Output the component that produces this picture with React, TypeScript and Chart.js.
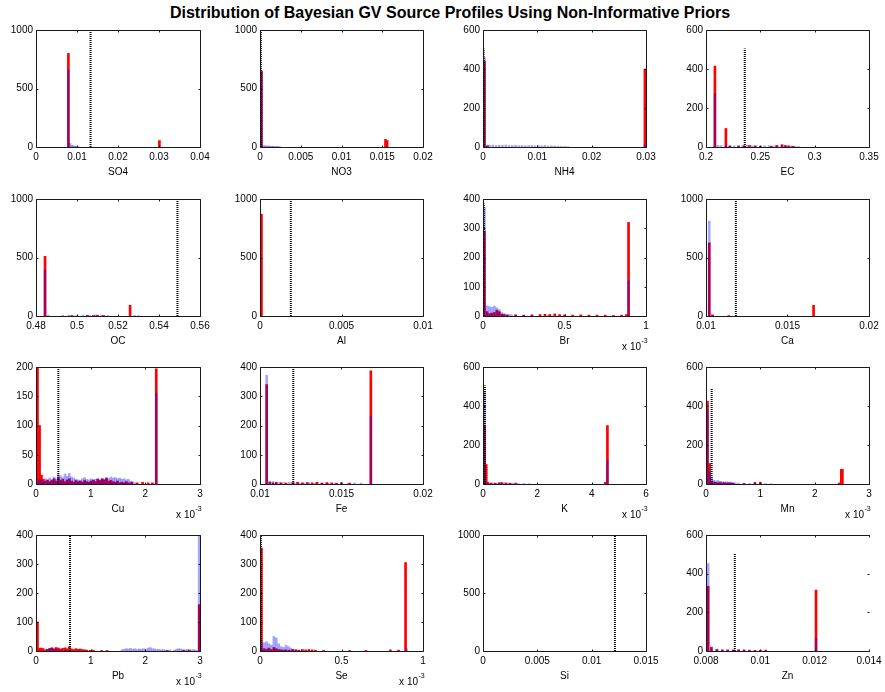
import React, { useEffect, useRef } from "react";
import { Chart, registerables } from "chart.js";

Chart.register(...registerables);

type Pair = [number, number];

const TITLE = "Distribution of Bayesian GV Source Profiles Using Non-Informative Priors";

// ---- axis ticks ----
const T_1000 = [0, 500, 1000];
const T_600 = [0, 200, 400, 600];
const T_400 = [0, 100, 200, 300, 400];
const T_200 = [0, 50, 100, 150, 200];

// ---- SO4 ----
const SO4_X = [0, 0.01, 0.02, 0.03, 0.04];
const SO4_RED: Pair[] = [[0.0079, 800], [0.0301, 55]];
const SO4_BLUE: Pair[] = [[0.0079, 660], [0.0083, 30], [0.0087, 14], [0.0091, 10], [0.0095, 8], [0.0099, 6], [0.0103, 4]];
// ---- NO3 ----
const NO3_X = [0, 0.005, 0.01, 0.015, 0.02];
const NO3_RED: Pair[] = [[0.00018, 650], [0.0154, 65], [0.0156, 55]];
const NO3_BLUE: Pair[] = [[0.00018, 640], [0.0004, 12], [0.0006, 10], [0.0008, 8], [0.001, 8], [0.0012, 7], [0.0014, 6], [0.0016, 6], [0.0018, 5], [0.002, 5], [0.0022, 4], [0.0024, 3]];
// ---- NH4 ----
const NH4_X = [0, 0.01, 0.02, 0.03];
const NH4_RED: Pair[] = [[0.00027, 440], [0.0008, 5], [0.0298, 400]];
const NH4_BLUE: Pair[] = [[0.00027, 460], [0.0008, 10], [0.0012, 9], [0.0018, 10], [0.0024, 8], [0.003, 9], [0.0036, 8], [0.0042, 10], [0.0048, 7], [0.0054, 8], [0.006, 9], [0.0066, 7], [0.0072, 8], [0.0078, 6], [0.0084, 7], [0.009, 8], [0.0096, 6], [0.0102, 7], [0.0108, 6], [0.0114, 8], [0.012, 5], [0.0126, 6], [0.0132, 5], [0.0138, 4], [0.0144, 3], [0.015, 3], [0.0156, 2], [0.0298, 10]];
// ---- EC ----
const EC_X = [0.2, 0.25, 0.3, 0.35];
const EC_RED: Pair[] = [[0.2082, 415], [0.2183, 95], [0.222, 5], [0.23, 4], [0.235, 6], [0.24, 8], [0.245, 5], [0.25, 3], [0.26, 4], [0.265, 8], [0.27, 12], [0.273, 8], [0.276, 6], [0.28, 4]];
const EC_BLUE: Pair[] = [[0.2082, 275], [0.211, 8], [0.214, 7], [0.2183, 10], [0.222, 8], [0.226, 6], [0.23, 8], [0.234, 7], [0.238, 9], [0.242, 6], [0.246, 8], [0.25, 5], [0.254, 6], [0.258, 7], [0.262, 5], [0.266, 6], [0.27, 8], [0.274, 5], [0.278, 6], [0.282, 4], [0.285, 3]];
// ---- OC ----
const OC_X = [0.48, 0.5, 0.52, 0.54, 0.56];
const OC_RED: Pair[] = [[0.4844, 510], [0.4975, 5], [0.505, 6], [0.508, 5], [0.51, 7], [0.513, 5], [0.5259, 92]];
const OC_BLUE: Pair[] = [[0.4844, 393], [0.486, 8], [0.493, 6], [0.496, 7], [0.5, 6], [0.503, 8], [0.506, 7], [0.509, 9], [0.512, 8], [0.515, 6], [0.528, 5], [0.53, 4]];
// ---- Al ----
const AL_X = [0, 0.005, 0.01];
const AL_RED: Pair[] = [[0.00009, 870]];
const AL_BLUE: Pair[] = [];
// ---- Br (x 10^-3) ----
const BR_X = [0, 0.5, 1];
const BR_RED: Pair[] = [[0.009, 290], [0.025, 15], [0.04, 8], [0.055, 10], [0.07, 12], [0.085, 20], [0.1, 15], [0.115, 6], [0.13, 5], [0.15, 3], [0.2, 4], [0.25, 3], [0.3, 4], [0.35, 5], [0.38, 6], [0.41, 5], [0.44, 7], [0.47, 5], [0.5, 4], [0.55, 3], [0.6, 4], [0.65, 3], [0.7, 3], [0.75, 3], [0.8, 2], [0.85, 3], [0.88, 5], [0.893, 320]];
const BR_BLUE: Pair[] = [[0.009, 370], [0.025, 35], [0.04, 32], [0.055, 30], [0.07, 34], [0.085, 28], [0.1, 22], [0.115, 12], [0.13, 8], [0.145, 6], [0.16, 5], [0.175, 4], [0.2, 3], [0.25, 2], [0.3, 3], [0.4, 2], [0.893, 120]];
// ---- Ca ----
const CA_X = [0.01, 0.015, 0.02];
const CA_RED: Pair[] = [[0.0102, 625], [0.0104, 10], [0.0114, 4], [0.0166, 92]];
const CA_BLUE: Pair[] = [[0.0102, 810], [0.0104, 5]];
// ---- Cu (x 10^-3) ----
const CU_X = [0, 1, 2, 3];
const CU_RED: Pair[] = [[0.027, 200], [0.065, 100], [0.1, 15], [0.13, 8], [0.17, 5], [0.21, 7], [0.25, 4], [0.29, 6], [0.33, 9], [0.37, 5], [0.41, 10], [0.45, 6], [0.49, 8], [0.53, 4], [0.57, 7], [0.61, 9], [0.65, 5], [0.69, 3], [0.73, 6], [0.77, 4], [0.81, 5], [0.85, 3], [0.89, 6], [0.93, 4], [0.97, 3], [1.01, 5], [1.05, 7], [1.09, 4], [1.13, 8], [1.17, 6], [1.21, 9], [1.25, 7], [1.29, 10], [1.33, 5], [1.37, 6], [1.41, 4], [1.45, 3], [1.49, 5], [1.53, 2], [1.57, 3], [1.61, 2], [1.65, 4], [1.69, 2], [1.75, 3], [1.85, 2], [1.95, 3], [2.05, 2], [2.13, 2], [2.2, 197]];
const CU_BLUE: Pair[] = [[0.027, 5], [0.065, 8], [0.1, 6], [0.13, 4], [0.17, 9], [0.21, 6], [0.25, 10], [0.29, 8], [0.33, 12], [0.37, 9], [0.41, 16], [0.45, 14], [0.49, 11], [0.53, 17], [0.57, 13], [0.61, 18], [0.65, 12], [0.69, 10], [0.73, 8], [0.77, 7], [0.81, 6], [0.85, 9], [0.89, 11], [0.93, 8], [0.97, 7], [1.01, 9], [1.05, 6], [1.09, 8], [1.13, 10], [1.17, 7], [1.21, 9], [1.25, 8], [1.29, 11], [1.33, 9], [1.37, 12], [1.41, 10], [1.45, 11], [1.49, 9], [1.53, 10], [1.57, 8], [1.61, 9], [1.65, 7], [1.69, 8], [1.73, 5], [1.77, 4], [1.81, 2], [2.2, 155]];
// ---- Fe ----
const FE_X = [0.01, 0.015, 0.02];
const FE_RED: Pair[] = [[0.01041, 340], [0.0106, 6], [0.0108, 4], [0.011, 5], [0.0113, 4], [0.0116, 3], [0.012, 5], [0.0123, 6], [0.0126, 4], [0.0129, 5], [0.0132, 4], [0.0135, 6], [0.0138, 3], [0.0141, 5], [0.0144, 4], [0.0147, 3], [0.015, 4], [0.0155, 3], [0.0168, 387]];
const FE_BLUE: Pair[] = [[0.01041, 372], [0.0106, 10], [0.0108, 8], [0.011, 7], [0.0112, 6], [0.0115, 5], [0.0118, 6], [0.0121, 5], [0.0124, 4], [0.0127, 3], [0.013, 4], [0.0134, 3], [0.0138, 4], [0.0142, 3], [0.0146, 3], [0.015, 4], [0.0154, 3], [0.0158, 4], [0.0162, 3], [0.0168, 232]];
// ---- K (x 10^-3) ----
const K_X = [0, 2, 4, 6];
const K_RED: Pair[] = [[0.055, 300], [0.12, 100], [0.18, 8], [0.3, 5], [0.45, 4], [0.6, 6], [0.7, 7], [0.85, 5], [1.0, 4], [1.2, 5], [4.5, 8], [4.58, 300]];
const K_BLUE: Pair[] = [[0.055, 470], [0.12, 8], [0.25, 4], [0.4, 5], [0.55, 6], [0.65, 8], [0.8, 6], [0.95, 5], [1.1, 4], [1.3, 3], [1.5, 3], [1.7, 2], [4.58, 120]];
// ---- Mn (x 10^-3) ----
const MN_X = [0, 1, 2, 3];
const MN_RED: Pair[] = [[0.027, 425], [0.065, 105], [0.1, 15], [0.14, 10], [0.18, 8], [0.22, 6], [0.26, 8], [0.3, 5], [0.34, 7], [0.38, 4], [0.42, 6], [0.46, 5], [0.5, 3], [0.7, 3], [0.9, 8], [1.0, 9], [2.45, 5], [2.49, 75], [2.51, 75]];
const MN_BLUE: Pair[] = [[0.027, 380], [0.065, 60], [0.1, 35], [0.14, 20], [0.18, 15], [0.22, 18], [0.26, 14], [0.3, 12], [0.34, 10], [0.38, 12], [0.42, 9], [0.46, 10], [0.5, 8], [0.54, 6], [0.6, 5], [0.7, 4], [0.8, 3], [0.9, 4], [1.0, 3], [1.1, 2], [1.2, 2]];
// ---- Pb (x 10^-3) ----
const PB_X = [0, 1, 2, 3];
const PB_RED: Pair[] = [[0.027, 100], [0.065, 10], [0.1, 10], [0.13, 8], [0.17, 4], [0.21, 6], [0.25, 9], [0.29, 11], [0.33, 8], [0.37, 12], [0.41, 10], [0.45, 7], [0.49, 9], [0.53, 11], [0.57, 8], [0.61, 15], [0.65, 7], [0.69, 5], [0.73, 8], [0.77, 6], [0.81, 7], [0.85, 5], [0.89, 4], [0.93, 3], [0.99, 2], [1.05, 3], [1.2, 2], [1.3, 2], [2.4, 2], [2.7, 2], [2.8, 2], [2.985, 160]];
const PB_BLUE: Pair[] = [[0.21, 5], [0.25, 8], [0.29, 10], [0.33, 6], [0.37, 5], [0.41, 4], [0.45, 3], [0.53, 3], [1.57, 4], [1.61, 6], [1.65, 8], [1.69, 7], [1.73, 9], [1.77, 6], [1.81, 8], [1.85, 5], [1.89, 7], [1.93, 6], [1.97, 8], [2.01, 6], [2.05, 10], [2.09, 12], [2.13, 8], [2.17, 7], [2.21, 5], [2.25, 6], [2.29, 4], [2.33, 5], [2.37, 3], [2.45, 4], [2.53, 3], [2.57, 6], [2.61, 8], [2.65, 7], [2.69, 5], [2.73, 4], [2.77, 6], [2.81, 5], [2.85, 4], [2.89, 5], [2.93, 3], [2.985, 400]];
// ---- Se (x 10^-3) ----
const SE_X = [0, 0.5, 1];
const SE_RED: Pair[] = [[0.009, 355], [0.025, 8], [0.04, 6], [0.055, 10], [0.07, 5], [0.085, 12], [0.1, 8], [0.115, 5], [0.13, 4], [0.145, 3], [0.16, 4], [0.18, 3], [0.2, 5], [0.22, 4], [0.24, 3], [0.26, 5], [0.28, 4], [0.3, 5], [0.32, 4], [0.34, 3], [0.39, 2], [0.55, 2], [0.65, 2], [0.8, 4], [0.85, 3], [0.893, 305]];
const SE_BLUE: Pair[] = [[0.009, 30], [0.025, 28], [0.04, 32], [0.055, 25], [0.07, 20], [0.085, 50], [0.1, 45], [0.115, 25], [0.13, 15], [0.145, 12], [0.16, 20], [0.175, 15], [0.19, 10], [0.205, 6], [0.22, 4], [0.235, 3], [0.26, 3], [0.3, 2], [0.9, 8]];
// ---- Si ----
const SI_X = [0, 0.005, 0.01, 0.015];
const SI_RED: Pair[] = [];
const SI_BLUE: Pair[] = [];
// ---- Zn ----
const ZN_X = [0.008, 0.01, 0.012, 0.014];
const ZN_RED: Pair[] = [[0.00808, 335], [0.0082, 20], [0.0084, 8], [0.0086, 5], [0.0088, 4], [0.009, 5], [0.0092, 6], [0.0094, 5], [0.0096, 4], [0.0098, 3], [0.01, 4], [0.0102, 5], [0.01205, 315]];
const ZN_BLUE: Pair[] = [[0.00808, 452], [0.0082, 15], [0.0084, 10], [0.0086, 8], [0.0088, 9], [0.009, 7], [0.0092, 8], [0.0094, 6], [0.0096, 5], [0.0098, 4], [0.01, 3], [0.01205, 65]];

// reference (dotted) line: x position and height
const REF_X = [0.0133, 0.0001, 0.00012, 0.2357, 0.549, 0.00189, 0.005, 0.01183, 0.408, 0.01204, 0.07, 0.104, 0.622, 0.005, 0.01214, 0.00906];
const REF_TOP = [1000, 1000, 505, 505, 1000, 1000, 385, 1000, 200, 400, 505, 490, 400, 400, 1000, 505];

interface Panel {
  label: string;
  xTicks: number[];
  yTicks: number[];
  red: Pair[];
  blue: Pair[];
  exp?: number;
  noRight?: boolean;
}

const PANELS: Panel[] = [
  { label: "SO4", xTicks: SO4_X, yTicks: T_1000, red: SO4_RED, blue: SO4_BLUE },
  { label: "NO3", xTicks: NO3_X, yTicks: T_1000, red: NO3_RED, blue: NO3_BLUE },
  { label: "NH4", xTicks: NH4_X, yTicks: T_600, red: NH4_RED, blue: NH4_BLUE },
  { label: "EC", xTicks: EC_X, yTicks: T_600, red: EC_RED, blue: EC_BLUE },
  { label: "OC", xTicks: OC_X, yTicks: T_1000, red: OC_RED, blue: OC_BLUE },
  { label: "Al", xTicks: AL_X, yTicks: T_1000, red: AL_RED, blue: AL_BLUE },
  { label: "Br", xTicks: BR_X, yTicks: T_400, red: BR_RED, blue: BR_BLUE, exp: -3 },
  { label: "Ca", xTicks: CA_X, yTicks: T_1000, red: CA_RED, blue: CA_BLUE },
  { label: "Cu", xTicks: CU_X, yTicks: T_200, red: CU_RED, blue: CU_BLUE, exp: -3 },
  { label: "Fe", xTicks: FE_X, yTicks: T_400, red: FE_RED, blue: FE_BLUE },
  { label: "K", xTicks: K_X, yTicks: T_600, red: K_RED, blue: K_BLUE, exp: -3 },
  { label: "Mn", xTicks: MN_X, yTicks: T_600, red: MN_RED, blue: MN_BLUE, exp: -3 },
  { label: "Pb", xTicks: PB_X, yTicks: T_400, red: PB_RED, blue: PB_BLUE, exp: -3 },
  { label: "Se", xTicks: SE_X, yTicks: T_400, red: SE_RED, blue: SE_BLUE, exp: -3 },
  { label: "Si", xTicks: SI_X, yTicks: T_1000, red: SI_RED, blue: SI_BLUE },
  { label: "Zn", xTicks: ZN_X, yTicks: T_600, red: ZN_RED, blue: ZN_BLUE, noRight: true },
];

const COL_LEFT = [36, 260, 483, 706];
const COL_W = [164, 163, 163, 163];
const ROW_TOP = [30, 199, 367, 535];
const ROW_H = [117, 117, 117, 116];
const PAD_L = 36;
const PAD_T = 10;
const CANVAS_W = 225;
const CANVAS_H = 168;
const FONT = '"Liberation Sans", Arial, Helvetica, sans-serif';

const fmt = (v: number) => String(parseFloat(v.toFixed(10)));

const framePlugin = {
  id: "frame",
  afterDraw(chart: any, _args: any, opts: any) {
    const p: Panel = opts.panel;
    const { ctx, chartArea: a, scales } = chart;
    const xs = scales.x;
    const ys = scales.y;
    const L = a.left + 0.5, R = a.right + 0.5, T = a.top + 0.5, B = a.bottom + 0.5;
    const tl = 2;
    ctx.save();
    ctx.strokeStyle = "#1a1a1a";
    ctx.lineWidth = 1;
    ctx.beginPath();
    ctx.moveTo(L, T); ctx.lineTo(R, T);
    ctx.moveTo(L, B); ctx.lineTo(R, B);
    ctx.moveTo(L, T); ctx.lineTo(L, B);
    if (!p.noRight) { ctx.moveTo(R, T); ctx.lineTo(R, B); }
    for (const v of p.xTicks) {
      const x = Math.round(xs.getPixelForValue(v)) + 0.5;
      ctx.moveTo(x, B); ctx.lineTo(x, B - tl);
      ctx.moveTo(x, T); ctx.lineTo(x, T + tl);
    }
    for (const v of p.yTicks) {
      const y = Math.round(ys.getPixelForValue(v)) + 0.5;
      ctx.moveTo(L, y); ctx.lineTo(L + tl, y);
      ctx.moveTo(R, y); ctx.lineTo(R - tl, y);
    }
    ctx.stroke();

    ctx.fillStyle = "#000";
    ctx.font = `10px ${FONT}`;
    ctx.textBaseline = "middle";
    ctx.textAlign = "center";
    for (const v of p.xTicks) {
      ctx.fillText(fmt(v), xs.getPixelForValue(v), a.bottom + 10.5);
    }
    ctx.textAlign = "right";
    for (const v of p.yTicks) {
      ctx.fillText(fmt(v), a.left - 3, ys.getPixelForValue(v));
    }
    ctx.textAlign = "center";
    ctx.fillText(p.label, (a.left + a.right) / 2, a.bottom + 25);
    if (p.exp) {
      ctx.textAlign = "right";
      ctx.fillText("x 10", a.right - 5, a.bottom + 31);
      ctx.font = `7px ${FONT}`;
      ctx.textAlign = "left";
      ctx.fillText(String(p.exp), a.right - 4.5, a.bottom + 25.5);
    }
    ctx.restore();
  },
};

function PanelChart({ index }: { index: number }) {
  const ref = useRef<HTMLCanvasElement | null>(null);
  const p = PANELS[index];
  const col = index % 4;
  const row = Math.floor(index / 4);
  const w = COL_W[col];
  const h = ROW_H[row];
  useEffect(() => {
    if (!ref.current) return;
    const xMin = p.xTicks[0];
    const xMax = p.xTicks[p.xTicks.length - 1];
    const yMax = p.yTicks[p.yTicks.length - 1];
    const chart = new Chart(ref.current, {
      type: "bar",
      data: {
        datasets: [
          {
            type: "line",
            data: [{ x: REF_X[index], y: 0 }, { x: REF_X[index], y: REF_TOP[index] }],
            borderColor: "#000",
            borderWidth: 2,
            borderDash: [1, 1],
            pointRadius: 0,
            fill: false,
            order: 0,
          } as any,
          {
            type: "bar",
            data: p.blue.map(([x, y]) => ({ x, y })),
            backgroundColor: "rgba(0,0,255,0.35)",
            borderWidth: 0,
            barThickness: 2,
            grouped: false,
            order: 1,
          } as any,
          {
            type: "bar",
            data: p.red.map(([x, y]) => ({ x, y })),
            backgroundColor: "#ff0000",
            borderWidth: 0,
            barThickness: 2,
            grouped: false,
            order: 2,
          } as any,
        ],
      },
      options: {
        responsive: false,
        animation: false,
        devicePixelRatio: 1,
        events: [],
        layout: {
          autoPadding: false,
          padding: { left: PAD_L, top: PAD_T, right: CANVAS_W - PAD_L - w, bottom: CANVAS_H - PAD_T - h },
        },
        scales: {
          x: { type: "linear", display: false, min: xMin, max: xMax, offset: false },
          y: { type: "linear", display: false, min: 0, max: yMax },
        },
        plugins: {
          legend: { display: false },
          tooltip: { enabled: false },
          frame: { panel: p },
        } as any,
      },
      plugins: [framePlugin],
    } as any);
    return () => chart.destroy();
  }, [index]);
  return (
    <canvas
      ref={ref}
      width={CANVAS_W}
      height={CANVAS_H}
      style={{
        position: "absolute",
        left: COL_LEFT[col] - PAD_L,
        top: ROW_TOP[row] - PAD_T,
        width: CANVAS_W,
        height: CANVAS_H,
        display: "block",
      }}
    />
  );
}

export default function App() {
  return (
    <div
      style={{
        position: "absolute",
        left: 0,
        top: 0,
        width: 885,
        height: 692,
        background: "#fff",
        overflow: "hidden",
      }}
    >
      <div
        style={{
          position: "absolute",
          left: 0,
          top: 4,
          width: 900,
          textAlign: "center",
          fontFamily: FONT,
          fontWeight: "bold",
          fontSize: 16,
          lineHeight: "18px",
          color: "#000",
        }}
      >
        {TITLE}
      </div>
      {PANELS.map((_, i) => (
        <PanelChart key={i} index={i} />
      ))}
    </div>
  );
}
